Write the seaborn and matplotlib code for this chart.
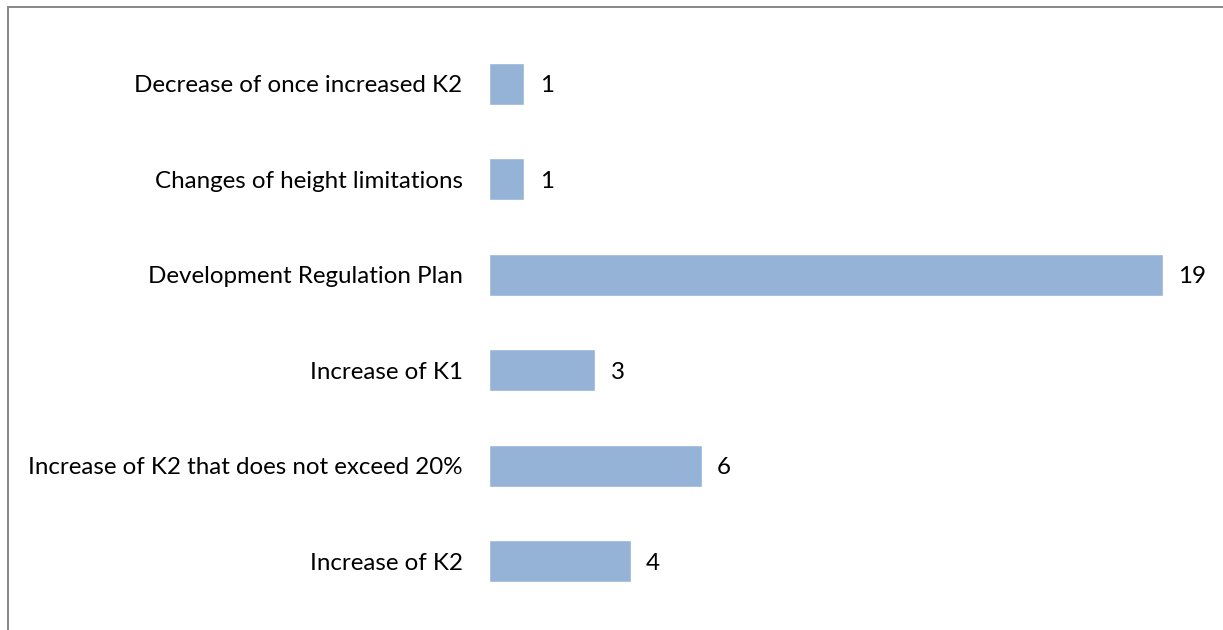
import matplotlib
matplotlib.use("Agg")
import matplotlib.pyplot as plt
import seaborn as sns
import pandas as pd
from matplotlib.patches import Rectangle

categories = [
    "Decrease of once increased K2",
    "Changes of height limitations",
    "Development Regulation Plan",
    "Increase of K1",
    "Increase of K2 that does not exceed 20%",
    "Increase of K2",
]
counts = [1, 1, 19, 3, 6, 4]

sns.set_theme(style="white")
plt.rcParams["font.family"] = ["Lato", "DejaVu Sans"]

df = pd.DataFrame({"category": categories, "count": counts})

fig = plt.figure(figsize=(12.23, 6.30), dpi=100)
ax = fig.add_axes([489 / 1223, 1 - 608.7 / 630, (1198.4 - 489) / 1223, (608.7 - 36.3) / 630])

sns.barplot(data=df, x="count", y="category", orient="h", color="#95B3D7",
            saturation=1, width=0.44, ax=ax, order=categories)

ax.set_xlim(0, 20)
ax.set_ylim(5.5, -0.5)
ax.set_xlabel("")
ax.set_ylabel("")
ax.set_xticks([])
for s in ax.spines.values():
    s.set_visible(False)
ax.tick_params(axis="y", length=0, pad=19, labelsize=17.4, labelcolor="black")

for cont in ax.containers:
    texts = ax.bar_label(cont, labels=[str(v) for v in counts], padding=11,
                         fontsize=17.4, color="black")
    for t in texts:
        t.set_va("center_baseline")

# chart-area border (only top and left edges fall inside the canvas)
fig.patches.append(Rectangle((8 / 1223, -0.1), 1.5, (1 - 7.5 / 630) + 0.1,
                             transform=fig.transFigure, fill=False,
                             edgecolor="#878787", linewidth=1.4))

fig.savefig("out.png", dpi=100, facecolor="white")
